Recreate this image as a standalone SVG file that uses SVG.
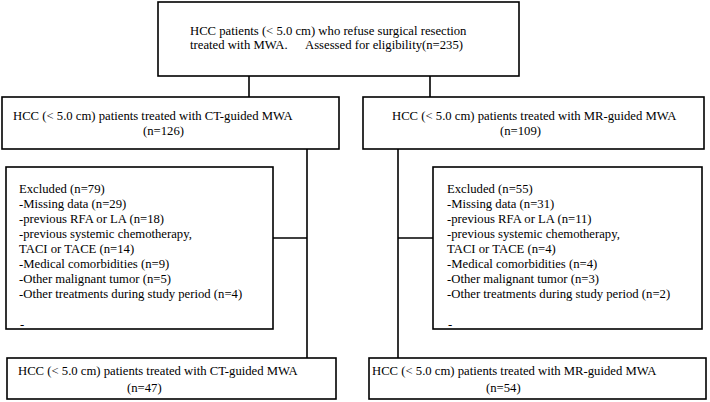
<svg xmlns="http://www.w3.org/2000/svg" width="710" height="402" viewBox="0 0 710 402">
<style>
.box{fill:#fff;stroke:#000;stroke-width:1.6}
.ln{stroke:#000;stroke-width:1.6;fill:none}
text{font-family:"Liberation Serif","Times New Roman",serif;font-size:12.7px;fill:#000}
</style>
<rect width="710" height="402" fill="#fff"/>
<g id="connectors">
<line class="ln" x1="249" y1="76" x2="249" y2="97"/>
<line class="ln" x1="430" y1="76" x2="430" y2="97"/>
<line class="ln" x1="307" y1="149" x2="307" y2="358"/>
<line class="ln" x1="273" y1="238" x2="307" y2="238"/>
<line class="ln" x1="398" y1="149" x2="398" y2="358"/>
<line class="ln" x1="398" y1="238" x2="433" y2="238"/>
</g>
<g id="assessed">
<rect class="box" x="158" y="2" width="361" height="74"/>
<text x="190" y="35">HCC patients (&lt; 5.0 cm) who refuse surgical resection</text>
<text y="49"><tspan x="190">treated with MWA.</tspan><tspan x="305">Assessed for eligibility(n=235)</tspan></text>
</g>
<g id="ct126">
<rect class="box" x="2" y="97" width="337" height="52"/>
<text x="13" y="120">HCC (&lt; 5.0 cm) patients treated with CT-guided MWA</text>
<text x="143" y="135">(n=126)</text>
</g>
<g id="mr109">
<rect class="box" x="363" y="97" width="341" height="52"/>
<text x="392" y="120">HCC (&lt; 5.0 cm) patients treated with MR-guided MWA</text>
<text x="500" y="135">(n=109)</text>
</g>
<g id="excl-ct">
<rect class="box" x="6" y="167" width="267" height="162"/>
<text x="19" y="193">Excluded (n=79)</text>
<text x="19" y="208">-Missing data (n=29)</text>
<text x="19" y="223">-previous RFA or LA (n=18)</text>
<text x="19" y="238">-previous systemic chemotherapy,</text>
<text x="19" y="253"> TACI or TACE (n=14)</text>
<text x="19" y="268">-Medical comorbidities (n=9)</text>
<text x="19" y="283">-Other malignant tumor (n=5)</text>
<text x="19" y="298">-Other treatments during study period (n=4)</text>
<text x="20" y="328">-</text>
</g>
<g id="excl-mr">
<rect class="box" x="433" y="167" width="269" height="162"/>
<text x="447" y="193">Excluded (n=55)</text>
<text x="447" y="208">-Missing data (n=31)</text>
<text x="447" y="223">-previous RFA or LA (n=11)</text>
<text x="447" y="238">-previous systemic chemotherapy,</text>
<text x="447" y="253"> TACI or TACE (n=4)</text>
<text x="447" y="268">-Medical comorbidities (n=4)</text>
<text x="447" y="283">-Other malignant tumor (n=3)</text>
<text x="447" y="298">-Other treatments during study period (n=2)</text>
<text x="448" y="328">-</text>
</g>
<g id="ct47">
<rect class="box" x="7" y="358" width="329" height="41"/>
<text x="18" y="375">HCC (&lt; 5.0 cm) patients treated with CT-guided MWA</text>
<text x="127" y="392">(n=47)</text>
</g>
<g id="mr54">
<rect class="box" x="369" y="358" width="337" height="41"/>
<text x="372" y="375">HCC (&lt; 5.0 cm) patients treated with MR-guided MWA</text>
<text x="486" y="392">(n=54)</text>
</g>
</svg>
